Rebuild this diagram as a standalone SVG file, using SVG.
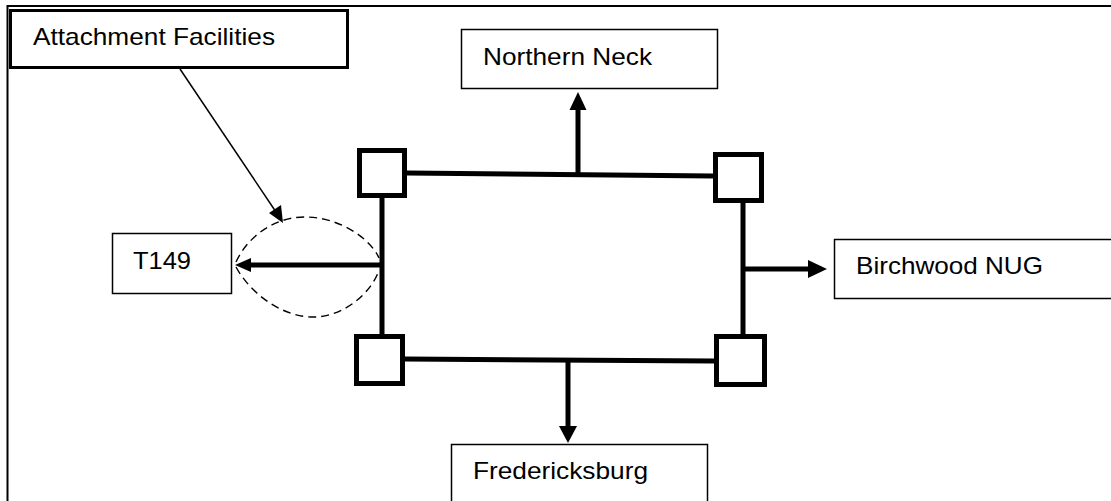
<svg xmlns="http://www.w3.org/2000/svg" width="1111" height="501" viewBox="0 0 1111 501">
<style>
.box{fill:#fff;stroke:#000;stroke-width:1.5}
.thickbox{fill:#fff;stroke:#000;stroke-width:3}
.bus{fill:none;stroke:#000;stroke-width:5}
.sq{fill:#fff;stroke:#000;stroke-width:5}
.lbl{font-family:"Liberation Sans",Arial,sans-serif;font-size:24px;fill:#000}
.dash{fill:none;stroke:#000;stroke-width:1.4;stroke-dasharray:8 5}
.head{fill:#000;stroke:none}
</style>
<rect width="1111" height="501" fill="#fff"/>
<g id="frame"><path d="M7.5,501 V6 H1111" fill="none" stroke="#000" stroke-width="2"/></g>
<g id="connectors">
<path class="bus" d="M407,173 L713,176"/>
<path class="bus" d="M405,359 L714,361"/>
<path class="bus" d="M382,198 V334"/>
<path class="bus" d="M743,202 V334"/>
<path class="bus" d="M578,174 V108"/>
<polygon class="head" points="578,92 569.5,110 586.5,110"/>
<path class="bus" d="M568,360 V428"/>
<polygon class="head" points="568,443 559,426 577,426"/>
<path class="bus" d="M743,269 H810"/>
<polygon class="head" points="827,269 808,260 808,278"/>
<path class="bus" d="M380,265 H248"/>
<polygon class="head" points="235,265 251,258 251,272"/>
<path d="M180,69 L276,212" fill="none" stroke="#000" stroke-width="1.5"/>
<polygon class="head" points="283,223 269,213 281,205"/>
<path class="dash" d="M236,262 C250,232 280,216 307,217 C340,218 370,238 379,258"/>
<path class="dash" d="M236,267 C252,296 285,318 315,317 C345,316 372,292 379,270"/>
</g>
<g id="sq-tl"><rect class="sq" x="359.5" y="150.5" width="45" height="45"/></g>
<g id="sq-tr"><rect class="sq" x="715.5" y="154.5" width="46" height="46"/></g>
<g id="sq-bl"><rect class="sq" x="356.5" y="336.5" width="46" height="47"/></g>
<g id="sq-br"><rect class="sq" x="716.5" y="336.5" width="48" height="48"/></g>
<g id="attachment">
<rect class="thickbox" x="10.5" y="10.5" width="337" height="57"/>
<text class="lbl" x="33" y="45" textLength="242" lengthAdjust="spacingAndGlyphs">Attachment Facilities</text>
</g>
<g id="northern-neck">
<rect class="box" x="461.5" y="29.5" width="256" height="59"/>
<text class="lbl" x="483" y="65" textLength="169" lengthAdjust="spacingAndGlyphs">Northern Neck</text>
</g>
<g id="t149">
<rect class="box" x="112.5" y="233.5" width="119" height="60"/>
<text class="lbl" x="133" y="269" textLength="58" lengthAdjust="spacingAndGlyphs">T149</text>
</g>
<g id="birchwood">
<rect class="box" x="834.5" y="239.5" width="300" height="59"/>
<text class="lbl" x="856" y="274" textLength="187" lengthAdjust="spacingAndGlyphs">Birchwood NUG</text>
</g>
<g id="fredericksburg">
<rect class="box" x="451.5" y="444.5" width="256" height="80"/>
<text class="lbl" x="473" y="479" textLength="175" lengthAdjust="spacingAndGlyphs">Fredericksburg</text>
</g>
</svg>
